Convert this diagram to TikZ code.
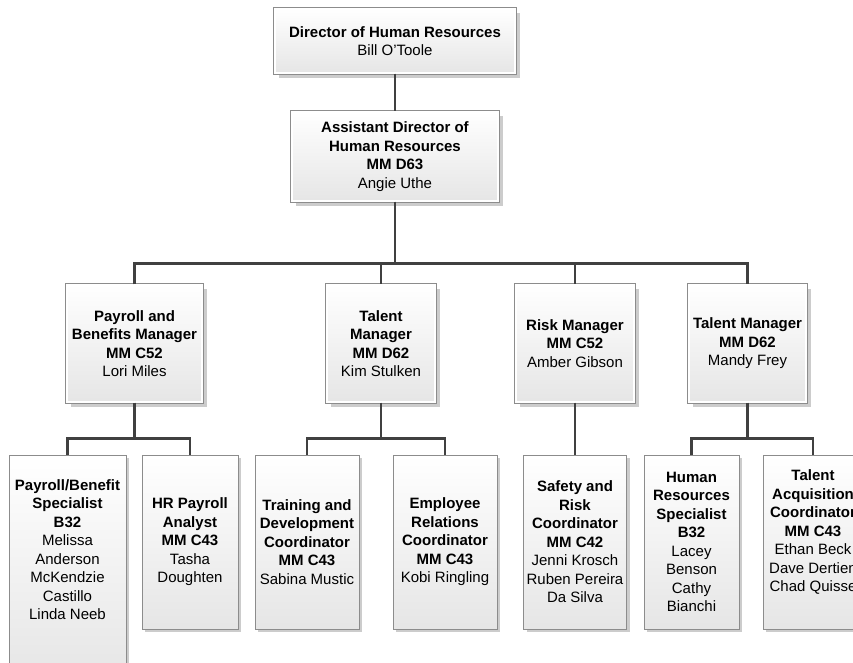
\documentclass[tikz,border=0pt]{standalone}
\usepackage{fontspec}
\setmainfont{Liberation Sans}
\usetikzlibrary{positioning, shadows}

\begin{document}
\begin{tikzpicture}[on grid, font=\fontsize{15pt}{18.5pt}\selectfont]
    \tikzstyle{head}=[draw=black!45, line width=0.7pt, double=white, double distance=2pt, top color=white, bottom color=black!10, align=center, inner sep=2pt, drop shadow={shadow xshift=4.5pt, shadow yshift=-4.5pt, fill=black, opacity=0.2}]
    \tikzstyle{staff}=[draw=black!45, line width=0.7pt, top color=white, bottom color=black!10, align=center, inner sep=2pt, minimum height=174pt, drop shadow={shadow xshift=3pt, shadow yshift=-3pt, fill=black, opacity=0.2}]
    \tikzstyle{link}=[line width=2.6pt, draw=black!75]

    \useasboundingbox (0,0) rectangle (853pt,-663pt);
    \clip (0,0) rectangle (853pt,-663pt);

    \node[head, minimum width=240.6pt, minimum height=64.6pt] (Dir) at (395pt,-41pt) {\textbf{Director of Human Resources}\\Bill O'Toole};
    \node[head, minimum width=206.6pt, minimum height=89.6pt, below=115.5pt of Dir] (Asst) {\textbf{Assistant Director of}\\\textbf{Human Resources}\\\textbf{MM D63}\\Angie Uthe};

    \node[head, minimum width=135.6pt, minimum height=117.6pt, below left=187pt and 260.5pt of Asst] (Pay) {\textbf{Payroll and}\\\textbf{Benefits Manager}\\\textbf{MM C52}\\Lori Miles};
    \node[head, minimum width=108.6pt, minimum height=117.6pt, right=246.5pt of Pay] (Tal) {\textbf{Talent}\\\textbf{Manager}\\\textbf{MM D62}\\Kim Stulken};
    \node[head, minimum width=118.6pt, minimum height=117.6pt, right=194pt of Tal] (Risk) {\textbf{Risk Manager}\\\textbf{MM C52}\\Amber Gibson};
    \node[head, minimum width=117.6pt, minimum height=117.6pt, right=172.5pt of Risk] (Mgr) {\textbf{Talent Manager}\\\textbf{MM D62}\\Mandy Frey};

    \node[staff, minimum width=117pt, minimum height=225pt, text depth=36pt, below left=224pt and 67pt of Pay] (Spec) {\textbf{Payroll/Benefit}\\\textbf{Specialist}\\\textbf{B32}\\Melissa\\Anderson\\McKendzie\\Castillo\\Linda Neeb};
    \node[staff, minimum width=96pt, below right=198.5pt and 55.5pt of Pay] (Ana) {\textbf{HR Payroll}\\\textbf{Analyst}\\\textbf{MM C43}\\Tasha\\Doughten};
    \node[staff, minimum width=104pt, below left=198.5pt and 74pt of Tal] (Train) {\textbf{Training and}\\\textbf{Development}\\\textbf{Coordinator}\\\textbf{MM C43}\\Sabina Mustic};
    \node[staff, minimum width=104pt, right=138pt of Train] (Emp) {\textbf{Employee}\\\textbf{Relations}\\\textbf{Coordinator}\\\textbf{MM C43}\\Kobi Ringling};
    \node[staff, minimum width=103pt, below=198.5pt of Risk] (Safe) {\textbf{Safety and}\\\textbf{Risk}\\\textbf{Coordinator}\\\textbf{MM C42}\\Jenni Krosch\\Ruben Pereira\\Da Silva};
    \node[staff, minimum width=95pt, below left=198.5pt and 56pt of Mgr] (Hrs) {\textbf{Human}\\\textbf{Resources}\\\textbf{Specialist}\\\textbf{B32}\\Lacey\\Benson\\Cathy\\Bianchi};
    \node[staff, minimum width=100pt, text depth=22pt, below right=198.5pt and 65.5pt of Mgr] (Acq) {\textbf{Talent}\\\textbf{Acquisition}\\\textbf{Coordinator}\\\textbf{MM C43}\\Ethan Beck\\Dave Dertien\\Chad Quisse};

    \coordinate[below=62pt of Asst.south] (b0);
    \coordinate[below=36pt of Pay.south] (b1);
    \coordinate[below=36pt of Tal.south] (b2);
    \coordinate[below=36pt of Mgr.south] (b4);

    \draw[link] (Dir.south) -- (Asst.north);
    \draw[link] (Asst.south) -- (b0);
    \draw[link] (Pay.north) |- (b0) -| (Mgr.north);
    \draw[link] (b0) -| (Tal.north);
    \draw[link] (b0) -| (Risk.north);

    \draw[link] (Pay.south) -- (b1);
    \draw[link] (Spec.north) |- (b1) -| (Ana.north);
    \draw[link] (Tal.south) -- (b2);
    \draw[link] (Train.north) |- (b2) -| (Emp.north);
    \draw[link] (Risk.south) -- (Safe.north);
    \draw[link] (Mgr.south) -- (b4);
    \draw[link] (Hrs.north) |- (b4) -| (Acq.north);
\end{tikzpicture}
\end{document}
